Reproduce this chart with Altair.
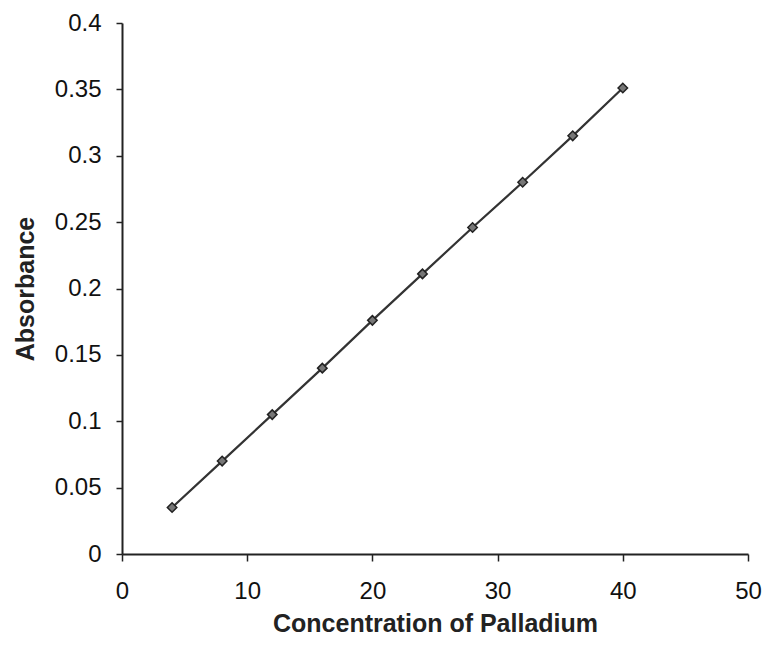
import altair as alt
import pandas as pd

concentration = [4, 8, 12, 16, 20, 24, 28, 32, 36, 40]
absorbance = [0.035, 0.070, 0.105, 0.140, 0.176, 0.211, 0.246, 0.280, 0.315, 0.351]
x_ticks = [0, 10, 20, 30, 40, 50]
y_ticks = [0, 0.05, 0.1, 0.15, 0.2, 0.25, 0.3, 0.35, 0.4]

df = pd.DataFrame({"Concentration": concentration, "Absorbance": absorbance})

FONT = "Liberation Sans"

x = alt.X(
    "Concentration:Q",
    scale=alt.Scale(domain=[0, 50], nice=False, zero=False),
    axis=alt.Axis(
        title="Concentration of Palladium",
        values=x_ticks,
        grid=False,
        labelFlush=False,
        domainColor="#222222",
        domainWidth=2,
        tickColor="#222222",
        tickWidth=1.5,
        tickSize=7,
        labelPadding=18,
        labelFont=FONT,
        labelFontSize=24,
        labelColor="#111111",
        titleFont=FONT,
        titleFontSize=25,
        titleFontWeight="bold",
        titleColor="#222222",
        titleBaseline="alphabetic",
        titleY=77,
    ),
)
y = alt.Y(
    "Absorbance:Q",
    scale=alt.Scale(domain=[0, 0.4], nice=False),
    axis=alt.Axis(
        title="Absorbance",
        values=y_ticks,
        format=".2~f",
        grid=False,
        labelFlush=False,
        domainColor="#222222",
        domainWidth=2,
        tickColor="#222222",
        tickWidth=1.5,
        tickSize=6,
        labelPadding=15,
        labelFont=FONT,
        labelFontSize=24,
        labelColor="#111111",
        titleFont=FONT,
        titleFontSize=25,
        titleFontWeight="bold",
        titleColor="#222222",
        titleBaseline="alphabetic",
        titleAngle=270,
        titleX=-89,
    ),
)

base = alt.Chart(df)
line = base.mark_line(color="#333333", strokeWidth=2.2).encode(x=x, y=y)
pts = base.mark_point(
    shape="diamond", filled=True, size=90, color="#777777",
    stroke="#222222", strokeWidth=1.5, opacity=1
).encode(x=x, y=y)

chart = (
    alt.layer(line, pts)
    .properties(
        width=626,
        height=531,
        autosize=alt.AutoSizeParams(type="none"),
        padding={"left": 114, "top": 15, "right": 14, "bottom": 82},
        background="white",
    )
    .configure_view(stroke=None)
)

chart.save("out.html", embed_options={"renderer": "svg", "actions": False})
